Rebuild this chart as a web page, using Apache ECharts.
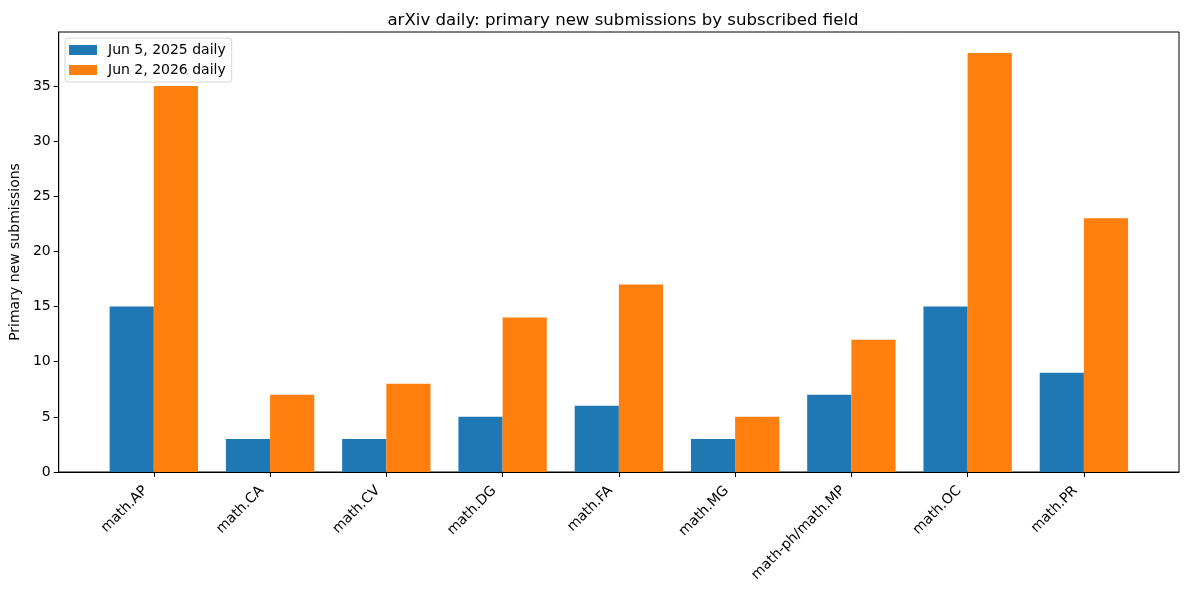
<!DOCTYPE html>
<html>
<head>
<meta charset="utf-8">
<script src="https://cdn.jsdelivr.net/npm/echarts@6/dist/echarts.min.js"></script>
<style>
  html, body { margin: 0; padding: 0; background: #fff; }
  #chart { width: 1189px; height: 590px; }
</style>
</head>
<body>
<div id="chart"></div>
<script>
const categories = ['math.AP', 'math.CA', 'math.CV', 'math.DG', 'math.FA', 'math.MG', 'math-ph/math.MP', 'math.OC', 'math.PR'];
const daily2025 = [15, 3, 3, 5, 6, 3, 7, 15, 9];
const daily2026 = [35, 7, 8, 14, 17, 5, 12, 38, 23];
const yTicks = [0, 5, 10, 15, 20, 25, 30, 35];

const font = 'DejaVu Sans';
const idx = categories.map((c, i) => i);

const chart = echarts.init(document.getElementById('chart'));

const options = {
  animation: false,
  textStyle: { fontFamily: font },
  title: {
    text: 'arXiv daily: primary new submissions by subscribed field',
    left: 618,
    textAlign: 'center',
    top: 7,
    textStyle: { fontFamily: font, fontSize: 16.6, fontWeight: 'normal', color: '#000' },
  },
  legend: {
    orient: 'vertical',
    left: 65,
    top: 38,
    padding: [5, 6, 5, 4],
    itemWidth: 28,
    itemHeight: 10,
    itemGap: 6,
    icon: 'rect',
    borderColor: '#d6d6d6',
    borderWidth: 1,
    borderRadius: 3,
    backgroundColor: 'rgba(255,255,255,0.8)',
    textStyle: { fontFamily: font, fontSize: 14, color: '#000', padding: [0, 0, 0, 6] },
    data: ['Jun 5, 2025 daily', 'Jun 2, 2026 daily'],
  },
  grid: {
    left: 57,
    right: 10,
    top: 32,
    bottom: 118,
    show: true,
    borderColor: '#000',
    borderWidth: 1,
    backgroundColor: 'transparent',
  },
  xAxis: {
    type: 'value',
    min: -0.818,
    max: 8.818,
    splitLine: { show: false },
    axisLine: { show: true, onZero: false, lineStyle: { color: '#000', width: 1 } },
    axisTick: { show: true, length: 5, customValues: idx, lineStyle: { color: '#000' } },
    axisLabel: {
      customValues: idx,
      rotate: 45,
      margin: 8,
      padding: [0, 12, 0, 0],
      fontFamily: font,
      fontSize: 14,
      color: '#000',
      formatter: (v) => categories[Math.round(v)],
    },
  },
  yAxis: {
    type: 'value',
    min: 0,
    max: 39.9,
    name: 'Primary new submissions',
    nameLocation: 'middle',
    nameGap: 36,
    nameTextStyle: { fontFamily: font, fontSize: 14, color: '#000' },
    splitLine: { show: false },
    axisLine: { show: true, onZero: false, lineStyle: { color: '#000', width: 1 } },
    axisTick: { show: true, length: 5, customValues: yTicks, lineStyle: { color: '#000' } },
    axisLabel: {
      customValues: yTicks,
      margin: 8,
      fontFamily: font,
      fontSize: 14,
      color: '#000',
    },
  },
  series: [
    {
      name: 'Jun 5, 2025 daily',
      type: 'bar',
      data: daily2025.map((v, i) => [i, v]),
      barWidth: '38%',
      barGap: '0%',
      itemStyle: { color: '#1f77b4', borderWidth: 0 },
    },
    {
      name: 'Jun 2, 2026 daily',
      type: 'bar',
      data: daily2026.map((v, i) => [i, v]),
      barWidth: '38%',
      barGap: '0%',
      itemStyle: { color: '#ff7f0e', borderWidth: 0 },
    },
  ],
};

chart.setOption(options);
</script>
</body>
</html>
